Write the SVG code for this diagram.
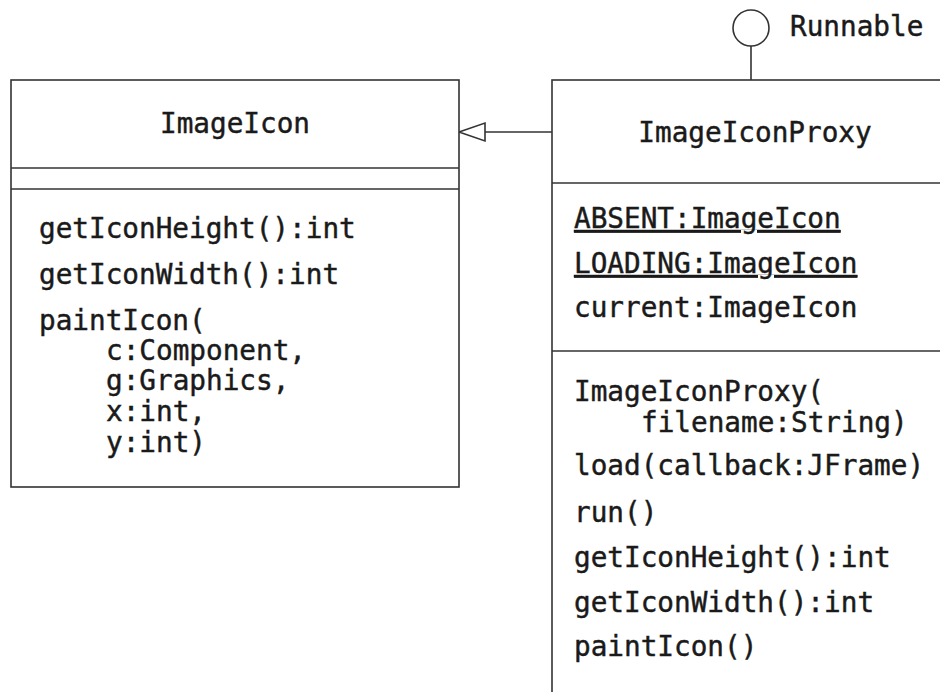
<svg xmlns="http://www.w3.org/2000/svg" width="940" height="692" viewBox="0 0 940 692">
<style>
.box{fill:#fff;stroke:#333;stroke-width:1.6}
.ln{stroke:#333;stroke-width:1.6;fill:none}
text{font-family:"DejaVu Sans Mono","Liberation Mono",monospace;font-size:27.7px;fill:#1a1a1a;stroke:#1a1a1a;stroke-width:0.45}
.c{text-anchor:middle}
.u{text-decoration:underline}
</style>
<rect width="940" height="692" fill="#fff"/>
<g id="connectors">
<line class="ln" x1="485" y1="132" x2="552" y2="132"/>
<polygon class="ln" points="459,132 485,123 485,141"/>
<line class="ln" x1="751" y1="46" x2="751" y2="80"/>
</g>
<g id="Runnable">
<circle class="ln" cx="751" cy="28" r="18"/>
<text x="790" y="36">Runnable</text>
</g>
<g id="ImageIcon">
<rect class="box" x="11" y="80" width="448" height="407"/>
<line class="ln" x1="11" y1="168" x2="459" y2="168"/>
<line class="ln" x1="11" y1="189" x2="459" y2="189"/>
<text class="c" x="235" y="133">ImageIcon</text>
<text x="39" y="238">getIconHeight():int</text>
<text x="39" y="284">getIconWidth():int</text>
<text x="39" y="330">paintIcon(</text>
<text x="106" y="360">c:Component,</text>
<text x="106" y="390">g:Graphics,</text>
<text x="106" y="421">x:int,</text>
<text x="106" y="452">y:int)</text>
</g>
<g id="ImageIconProxy">
<rect class="box" x="552" y="80" width="420" height="640"/>
<line class="ln" x1="552" y1="183" x2="940" y2="183"/>
<line class="ln" x1="552" y1="351" x2="940" y2="351"/>
<text class="c" x="755" y="142">ImageIconProxy</text>
<text class="u" x="574" y="228">ABSENT:ImageIcon</text>
<text class="u" x="574" y="273">LOADING:ImageIcon</text>
<text x="574" y="317">current:ImageIcon</text>
<text x="574" y="401">ImageIconProxy(</text>
<text x="641" y="432">filename:String)</text>
<text x="574" y="475">load(callback:JFrame)</text>
<text x="574" y="522">run()</text>
<text x="574" y="567">getIconHeight():int</text>
<text x="574" y="612">getIconWidth():int</text>
<text x="574" y="656">paintIcon()</text>
</g>
</svg>
